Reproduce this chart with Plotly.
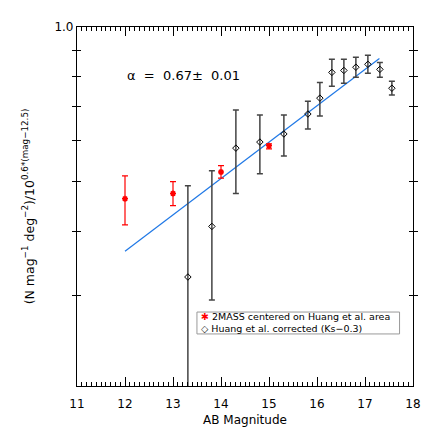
import math
import plotly.graph_objects as go

# 2MASS counts centred on the Huang et al. area (red)
mass_x = [12.0, 13.0, 14.0, 15.0]
mass_y = [0.463, 0.474, 0.522, 0.587]
mass_hi = [0.513, 0.500, 0.537, 0.592]
mass_lo = [0.412, 0.449, 0.508, 0.579]

# Huang et al. corrected (Ks-0.3) (black)
huang_x = [13.31, 13.81, 14.31, 14.81, 15.31, 15.81, 16.06, 16.31, 16.56, 16.81, 17.06, 17.31, 17.56]
huang_y = [0.326, 0.409, 0.581, 0.597, 0.619, 0.677, 0.727, 0.816, 0.823, 0.835, 0.846, 0.827, 0.760]
huang_hi = [0.491, 0.525, 0.689, 0.674, 0.674, 0.717, 0.780, 0.865, 0.865, 0.873, 0.881, 0.853, 0.784]
huang_lo = [0.10, 0.294, 0.474, 0.518, 0.561, 0.633, 0.671, 0.767, 0.777, 0.798, 0.813, 0.798, 0.737]

# power-law fit, alpha = 0.67
fit_x = [12.0, 17.3]
fit_y = [0.366, 0.868]

y_ticks = [0.3, 0.4, 0.5, 0.6, 0.7, 0.8, 0.9, 1.0]
y_ticktext = ["", "", "", "", "", "", "", "1.0"]

FONT = "DejaVu Sans"

fig = go.Figure()

fig.add_trace(go.Scatter(
    x=fit_x, y=fit_y, mode="lines",
    line=dict(color="#1f78e6", width=1.2),
    showlegend=False, hoverinfo="skip",
))

fig.add_trace(go.Scatter(
    x=mass_x, y=mass_y, mode="markers",
    name="2MASS centered on Huang et al. area",
    marker=dict(symbol="asterisk-open", size=5, color="red",
                line=dict(color="red", width=1.5)),
    error_y=dict(type="data", symmetric=False,
                 array=[h - y for h, y in zip(mass_hi, mass_y)],
                 arrayminus=[y - l for y, l in zip(mass_y, mass_lo)],
                 color="red", thickness=1.2, width=3),
    showlegend=False,
))

fig.add_trace(go.Scatter(
    x=huang_x, y=huang_y, mode="markers",
    name="Huang et al. corrected (Ks\u22120.3)",
    marker=dict(symbol="diamond-open", size=5, color="black",
                line=dict(color="black", width=1)),
    error_y=dict(type="data", symmetric=False,
                 array=[h - y for h, y in zip(huang_hi, huang_y)],
                 arrayminus=[y - l for y, l in zip(huang_y, huang_lo)],
                 color="#444444", thickness=1.5, width=3),
    showlegend=False,
))

# invisible trace on the overlay axis so the minor ticks get drawn
fig.add_trace(go.Scatter(x=[11, 18], y=[0.5, 0.5], xaxis="x2", mode="lines",
                         line=dict(width=0), showlegend=False, hoverinfo="skip"))

fig.add_annotation(
    x=12.0, y=math.log10(0.806), xref="x", yref="y", xanchor="left", yanchor="middle",
    text="\u03b1  =  0.67\u00b1  0.01", showarrow=False,
    font=dict(family=FONT, size=13, color="black"),
)

# compact legend box, as in the original figure
fig.add_shape(type="rect", xref="paper", yref="paper",
              x0=0.357, x1=0.96, y0=0.145, y1=0.206,
              line=dict(color="#999999", width=1), fillcolor="white")
fig.add_annotation(
    x=0.362, y=0.176, xref="paper", yref="paper", xanchor="left", yanchor="middle",
    align="left", showarrow=False,
    text=("<span style='color:red'>\u2731</span> 2MASS centered on Huang et al. area<br>"
          "\u25c7 Huang et al. corrected (Ks\u22120.3)"),
    font=dict(family=FONT, size=9.5, color="black"),
)

fig.update_layout(
    xaxis=dict(
        range=[11, 18], dtick=1, tick0=11,
        ticks="inside", ticklen=9, tickcolor="black",
        showline=True, linecolor="black", linewidth=1.2, mirror="allticks",
        showgrid=False, zeroline=False, automargin=False, ticklabelstandoff=6,
        tickfont=dict(family=FONT, size=12, color="black"),
        title=dict(text="AB Magnitude", font=dict(family=FONT, size=12, color="black"), standoff=6),
    ),
    xaxis2=dict(
        overlaying="x", range=[11, 18], dtick=0.1, tick0=11,
        ticks="inside", ticklen=4, tickcolor="black", side="bottom",
        showline=False, mirror="allticks", showticklabels=False,
        showgrid=False, zeroline=False, automargin=False,
    ),
    yaxis=dict(
        type="log", range=[-0.699, 0.0],
        tickvals=y_ticks, ticktext=y_ticktext,
        ticks="inside", ticklen=4, tickcolor="black",
        showline=True, linecolor="black", linewidth=1.2, mirror="allticks",
        showgrid=False, zeroline=False, automargin=False,
        tickfont=dict(family=FONT, size=12, color="black"),
        title=dict(text="(N mag<sup>\u22121</sup> deg<sup>\u22122</sup>)/10<sup>0.6*(mag\u221212.5)</sup>",
                   font=dict(family=FONT, size=12.5, color="black"), standoff=17),
    ),
    width=436, height=436,
    margin=dict(l=77, r=23, t=27, b=50),
    paper_bgcolor="white", plot_bgcolor="white",
    showlegend=False,
)

fig.write_html("out.html", config={"displayModeBar": False},
               post_script="document.body.style.margin='0';")
